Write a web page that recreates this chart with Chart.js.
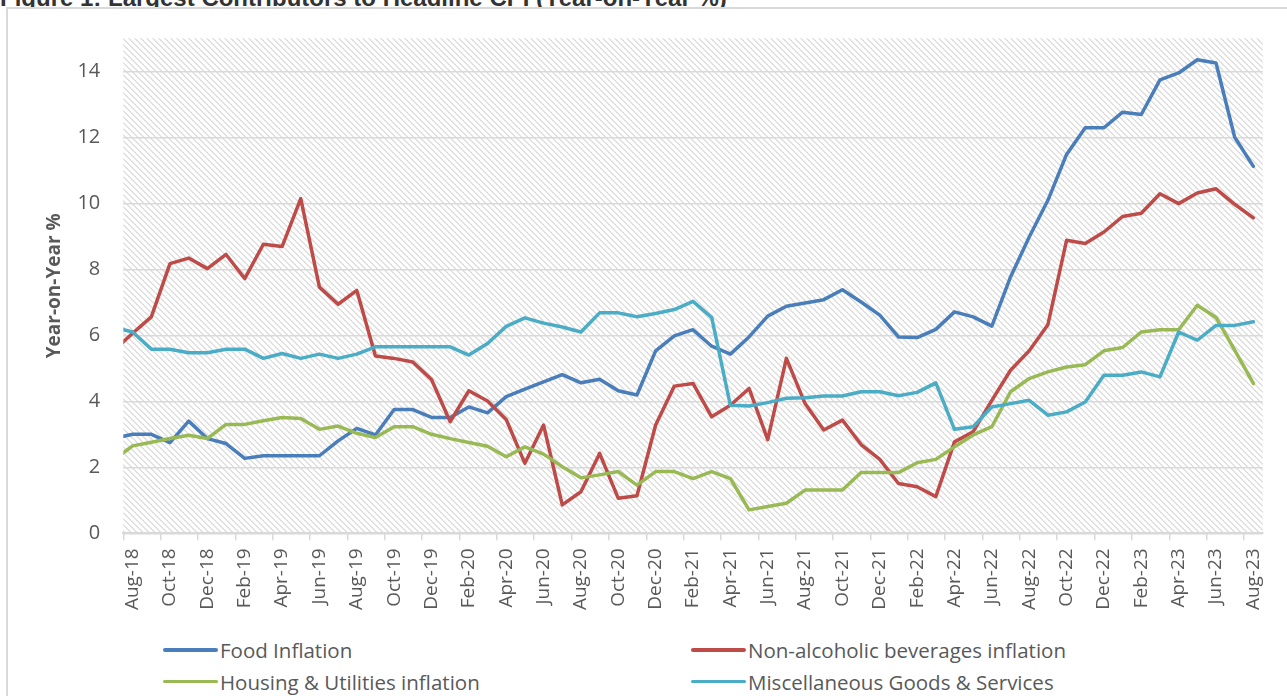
<!DOCTYPE html>
<html>
<head>
<meta charset="utf-8">
<script src="https://cdn.jsdelivr.net/npm/chart.js@4.4.1/dist/chart.umd.min.js"></script>
<style>
  html, body { margin: 0; padding: 0; background: #fff; overflow: hidden; }
  body { width: 1287px; height: 696px; position: relative; font-family: 'Open Sans', sans-serif; }
  #figTitle { position: absolute; left: 0; top: -14px; font: bold 24px 'Liberation Sans', Arial, sans-serif; line-height: 24px; color: #333; white-space: nowrap; }
  #frame { position: absolute; left: 6px; top: 7px; width: 1400px; height: 800px; border-left: 2px solid #d9d9d9; border-top: 2px solid #d9d9d9; background: #fff; }
  #myChart { position: absolute; left: 0; top: 0; }
  #legend { position: absolute; left: 163px; top: 634px; display: grid; grid-template-columns: 528px auto; }
  #legend .item { display: flex; align-items: center; height: 31.7px; font-size: 20.5px; color: #595959; white-space: nowrap; }
  #legend .swatch { display: inline-block; width: 55px; height: 3.5px; border-radius: 2px; margin-right: 2px; }
</style>
</head>
<body>
<div id="figTitle">Figure 1: Largest Contributors to Headline CPI (Year-on-Year %)</div>
<div id="frame"></div>
<canvas id="myChart" width="1287" height="630"></canvas>
<div id="legend"></div>
<script>
// first entry (Jul-18) is only there so the lines run into the left edge, like the original
var months = ["Jul-18",
    "Aug-18", "Sep-18", "Oct-18", "Nov-18", "Dec-18", "Jan-19", "Feb-19", "Mar-19", "Apr-19", "May-19", "Jun-19", "Jul-19",
    "Aug-19", "Sep-19", "Oct-19", "Nov-19", "Dec-19", "Jan-20", "Feb-20", "Mar-20", "Apr-20", "May-20", "Jun-20", "Jul-20",
    "Aug-20", "Sep-20", "Oct-20", "Nov-20", "Dec-20", "Jan-21", "Feb-21", "Mar-21", "Apr-21", "May-21", "Jun-21", "Jul-21",
    "Aug-21", "Sep-21", "Oct-21", "Nov-21", "Dec-21", "Jan-22", "Feb-22", "Mar-22", "Apr-22", "May-22", "Jun-22", "Jul-22",
    "Aug-22", "Sep-22", "Oct-22", "Nov-22", "Dec-22", "Jan-23", "Feb-23", "Mar-23", "Apr-23", "May-23", "Jun-23", "Jul-23",
    "Aug-23"];

var foodInflation = [2.88,
    3.0, 3.0, 2.75, 3.4, 2.87, 2.72, 2.27, 2.35, 2.35, 2.35, 2.35, 2.8,
    3.18, 2.98, 3.75, 3.75, 3.51, 3.51, 3.83, 3.65, 4.14, 4.37, 4.59, 4.81,
    4.56, 4.67, 4.32, 4.19, 5.53, 5.98, 6.17, 5.67, 5.43, 5.95, 6.58, 6.88,
    6.98, 7.08, 7.38, 7.01, 6.61, 5.95, 5.93, 6.18, 6.71, 6.56, 6.28, 7.77,
    8.98, 10.09, 11.48, 12.29, 12.29, 12.76, 12.69, 13.74, 13.95, 14.35, 14.25, 12.0,
    11.12];

var beveragesInflation = [5.54,
    6.06, 6.56, 8.17, 8.34, 8.02, 8.45, 7.72, 8.76, 8.69, 10.14, 7.46, 6.94,
    7.36, 5.37, 5.30, 5.19, 4.66, 3.38, 4.32, 4.01, 3.45, 2.12, 3.28, 0.86,
    1.26, 2.42, 1.06, 1.14, 3.28, 4.46, 4.54, 3.53, 3.88, 4.39, 2.84, 5.30,
    3.93, 3.13, 3.43, 2.69, 2.24, 1.51, 1.41, 1.11, 2.77, 3.08, 4.03, 4.94,
    5.53, 6.32, 8.88, 8.78, 9.13, 9.60, 9.70, 10.29, 9.99, 10.31, 10.44, 9.97,
    9.56];

var housingInflation = [2.23,
    2.65, 2.76, 2.87, 2.97, 2.87, 3.30, 3.30, 3.41, 3.51, 3.48, 3.15, 3.25,
    3.03, 2.90, 3.23, 3.23, 3.00, 2.87, 2.75, 2.64, 2.32, 2.62, 2.40, 2.02,
    1.68, 1.77, 1.87, 1.46, 1.87, 1.87, 1.66, 1.87, 1.66, 0.71, 0.81, 0.91,
    1.31, 1.31, 1.31, 1.84, 1.84, 1.84, 2.14, 2.24, 2.62, 2.98, 3.23, 4.29,
    4.69, 4.89, 5.04, 5.11, 5.53, 5.63, 6.10, 6.17, 6.17, 6.91, 6.54, 5.55,
    4.54];

var miscInflation = [6.24,
    6.10, 5.58, 5.58, 5.47, 5.47, 5.58, 5.58, 5.30, 5.45, 5.30, 5.43, 5.30,
    5.43, 5.65, 5.65, 5.65, 5.65, 5.65, 5.40, 5.75, 6.27, 6.53, 6.37, 6.25,
    6.10, 6.68, 6.68, 6.56, 6.66, 6.78, 7.03, 6.54, 3.88, 3.86, 3.96, 4.09,
    4.11, 4.16, 4.16, 4.29, 4.29, 4.17, 4.27, 4.56, 3.15, 3.23, 3.83, 3.93,
    4.03, 3.58, 3.68, 3.98, 4.79, 4.79, 4.89, 4.74, 6.10, 5.85, 6.30, 6.30,
    6.41];

var yTicks = [0, 2, 4, 6, 8, 10, 12, 14];

function makeHatch() {
    var c = document.createElement('canvas');
    c.width = 6;
    c.height = 6;
    var cx = c.getContext('2d');
    cx.fillStyle = '#ffffff';
    cx.fillRect(0, 0, 6, 6);
    cx.fillStyle = '#e0e0e0';
    for (var y = 0; y < 6; y++) {
        for (var x = 0; x < 6; x++) {
            var d = ((x - y) % 6 + 6) % 6;
            if (d < 2) cx.fillRect(x, y, 1, 1);
        }
    }
    return cx.createPattern(c, 'repeat');
}
var hatch = makeHatch();

var hatchPlugin = {
    id: 'hatch',
    beforeDraw: function (chart) {
        var a = chart.chartArea;
        var ctx = chart.ctx;
        ctx.save();
        ctx.fillStyle = hatch;
        ctx.fillRect(a.left, a.top, a.right - a.left, a.bottom - a.top);
        ctx.restore();
    }
};

function line(label, values, color, order) {
    return {
        label: label,
        data: values,
        borderColor: color,
        backgroundColor: color,
        borderWidth: 3.5,
        pointRadius: 0,
        tension: 0,
        borderJoinStyle: 'round',
        borderCapStyle: 'round',
        clip: 0,
        order: order
    };
}

var ctx = document.getElementById('myChart').getContext('2d');
var myChart = new Chart(ctx, {
    type: 'line',
    data: {
        labels: months,
        datasets: [
            line('Food Inflation', foodInflation, '#4a7ebb', 3),
            line('Non-alcoholic beverages inflation', beveragesInflation, '#be4b48', 2),
            line('Housing & Utilities inflation', housingInflation, '#98b954', 1),
            line('Miscellaneous Goods & Services', miscInflation, '#4bacc6', 0)
        ]
    },
    options: {
        responsive: false,
        animation: false,
        layout: { padding: { top: 38.3, right: 24.3, left: 0, bottom: 0 } },
        plugins: {
            legend: { display: false },
            tooltip: { enabled: false }
        },
        scales: {
            x: {
                type: 'category',
                min: 'Aug-18',
                offset: true,
                afterFit: function (scale) { scale.height = 96.7; },
                grid: {
                    offset: true,
                    drawOnChartArea: false,
                    drawTicks: true,
                    tickLength: 7,
                    lineWidth: 1.5,
                    color: function (c) { return c.index % 2 === 0 ? '#d9d9d9' : 'rgba(0,0,0,0)'; }
                },
                border: { display: true, color: '#d9d9d9', width: 2 },
                ticks: {
                    autoSkip: false,
                    maxRotation: 90,
                    minRotation: 90,
                    padding: 8,
                    color: '#595959',
                    font: { family: 'Open Sans', size: 19 },
                    callback: function (value, index) {
                        return index % 2 === 0 ? this.getLabelForValue(value) : '';
                    }
                }
            },
            y: {
                min: 0,
                max: 15,
                afterFit: function (scale) { scale.width = 123.3; },
                afterBuildTicks: function (scale) {
                    scale.ticks = yTicks.map(function (v) { return { value: v }; });
                },
                grid: { color: '#d9d9d9', lineWidth: 1.5, drawTicks: false },
                border: { display: false },
                ticks: {
                    padding: 23,
                    color: '#595959',
                    font: { family: 'Open Sans', size: 20 }
                },
                title: {
                    display: true,
                    text: 'Year-on-Year %',
                    color: '#595959',
                    font: { family: 'Open Sans', size: 19, weight: 'bold' },
                    padding: { top: 43, bottom: 0 }
                }
            }
        }
    },
    plugins: [hatchPlugin]
});

// legend in two columns like the original
var legendBox = document.getElementById('legend');
myChart.data.datasets.forEach(function (ds) {
    var item = document.createElement('div');
    item.className = 'item';
    var sw = document.createElement('span');
    sw.className = 'swatch';
    sw.style.background = ds.borderColor;
    item.appendChild(sw);
    item.appendChild(document.createTextNode(ds.label));
    legendBox.appendChild(item);
});
</script>
</body>
</html>
